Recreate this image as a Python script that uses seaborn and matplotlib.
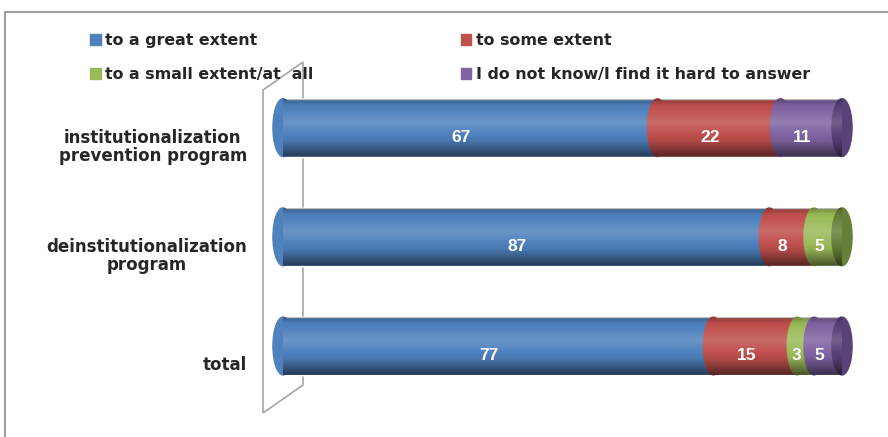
import numpy as np
import pandas as pd
import seaborn as sns
import matplotlib.pyplot as plt
import matplotlib.transforms as mtransforms
from matplotlib.patches import Ellipse, Rectangle, PathPatch, Patch, Polygon
from matplotlib.path import Path

# data
categories = ['institutionalization\nprevention program', 'deinstitutionalization\nprogram', 'total']
series = ['to a great extent', 'to some extent', 'to a small extent/at  all',
          'I do not know/I find it hard to answer']
great = [67, 87, 77]
some = [22, 8, 15]
small = [0, 5, 3]
dont_know = [11, 0, 5]

colors = ['#4F81BD', '#C0504D', '#9BBB59', '#8064A2']
cap_colors = ['#2F4F7A', '#7A3230', '#66803A', '#574378']

sns.set_style('white')
plt.rcParams['font.family'] = ['DejaVu Sans']

W, H = 888, 437
fig = plt.figure(figsize=(W / 100, H / 100), dpi=100)
ax = fig.add_axes([283 / W, 1 - 400.6 / H, 559 / W, 327.6 / H])

values = np.array([great, some, small, dont_know], dtype=float)
cum = values.cumsum(axis=0)
bar_h = 0.53
ew = 3.6  # width of the cylinder end ellipse in data units

# stacked bars: draw cumulative totals from widest to narrowest
for i in reversed(range(4)):
    sns.barplot(x=cum[i], y=categories, color=colors[i], orient='h', width=bar_h,
                saturation=1, errorbar=None, ax=ax, zorder=1)

# cylinder look: rounded segment boundaries, end caps, shading
t = np.linspace(0, 1, 120)
v = np.interp(t, [0, 0.1, 0.4, 0.72, 1.0], [-0.28, -0.04, 0.16, -0.08, -0.55])
grad = np.zeros((len(t), 4, 4))
grad[:, :, :3] = np.where(v[:, None, None] > 0, 1.0, 0.0)
grad[:, :, 3] = np.abs(v)[:, None]

a, b = ew / 2, bar_h / 2
for row in range(len(categories)):
    y0 = row
    ax.add_patch(Ellipse((0, y0), ew, bar_h, color=colors[0], zorder=2, clip_on=False))
    for i in range(1, 4):
        if values[i, row] > 0:
            ax.add_patch(Ellipse((cum[i - 1, row], y0), ew, bar_h, color=colors[i],
                                 zorder=2, clip_on=False))
    last = max(i for i in range(4) if values[i, row] > 0)
    end = cum[-1, row]
    ax.add_patch(Ellipse((end, y0), ew, bar_h, color=cap_colors[last], zorder=2.5,
                         clip_on=False))

    th = np.linspace(np.pi / 2, -np.pi / 2, 60)
    right = np.column_stack([end + a * np.cos(th), y0 + b * np.sin(th)])
    left = np.column_stack([0 - a * np.cos(th[::-1]), y0 + b * np.sin(th[::-1])])
    pts = np.vstack([right, left, right[:1]])
    clip = PathPatch(Path(pts, closed=True), transform=ax.transData)
    im = ax.imshow(grad, extent=[-a - 1, end + a + 1, y0 + b, y0 - b], aspect='auto',
                   interpolation='bilinear', zorder=3)
    im.set_clip_box(None)
    im.set_clip_path(clip)

    for i in range(4):
        val = values[i, row]
        if val > 0:
            ax.annotate(f'{val:.0f}', (cum[i, row] - val / 2, y0), xytext=(-6.5, -6.8),
                        textcoords='offset points', ha='center', va='center',
                        color='white', fontweight='bold', fontsize=12.5,
                        family='Liberation Sans', zorder=5)

ax.set_xlim(0, 100)
ax.set_ylim(len(categories) - 0.5, -0.5)
ax.set_xticks([])
ax.set_xlabel('')
ax.set_ylabel('')
sns.despine(ax=ax, left=True, bottom=True)
ax.tick_params(axis='y', length=0, pad=26)
shift = mtransforms.ScaledTranslation(0, -17 / 100, fig.dpi_scale_trans)
for lab in ax.get_yticklabels():
    lab.set_fontweight('bold')
    lab.set_fontsize(12)
    lab.set_multialignment('center')
    lab.set_linespacing(1.05)
    lab.set_transform(lab.get_transform() + shift)

# 3D back wall outline
def px(x, y):
    return (x / W, 1 - y / H)

wall = Polygon([px(263, 90), px(303, 62), px(303, 385), px(263, 413)], closed=True,
               fill=False, ec='#A6A6A6', lw=1.2, transform=fig.transFigure,
               clip_on=False, zorder=0.5)
ax.add_patch(wall)

# chart area border
fig.add_artist(Rectangle((5 / W, -0.1), 1.2, 1 - 12 / H + 0.1, fill=False,
                         ec='#A0A0A0', lw=1.5, transform=fig.transFigure))

order = [0, 2, 1, 3]
handles = [Patch(color=colors[i]) for i in order]
labels = [series[i] for i in order]
fig.legend(handles, labels, ncol=2, loc='upper left', bbox_to_anchor=px(90, 33),
           frameon=False, prop={'weight': 'bold', 'size': 11.4}, handlelength=0.68,
           handleheight=0.68, handletextpad=0.27, labelspacing=1.2, columnspacing=9.3,
           borderaxespad=0, borderpad=0)

fig.savefig('out.png', dpi=100)
